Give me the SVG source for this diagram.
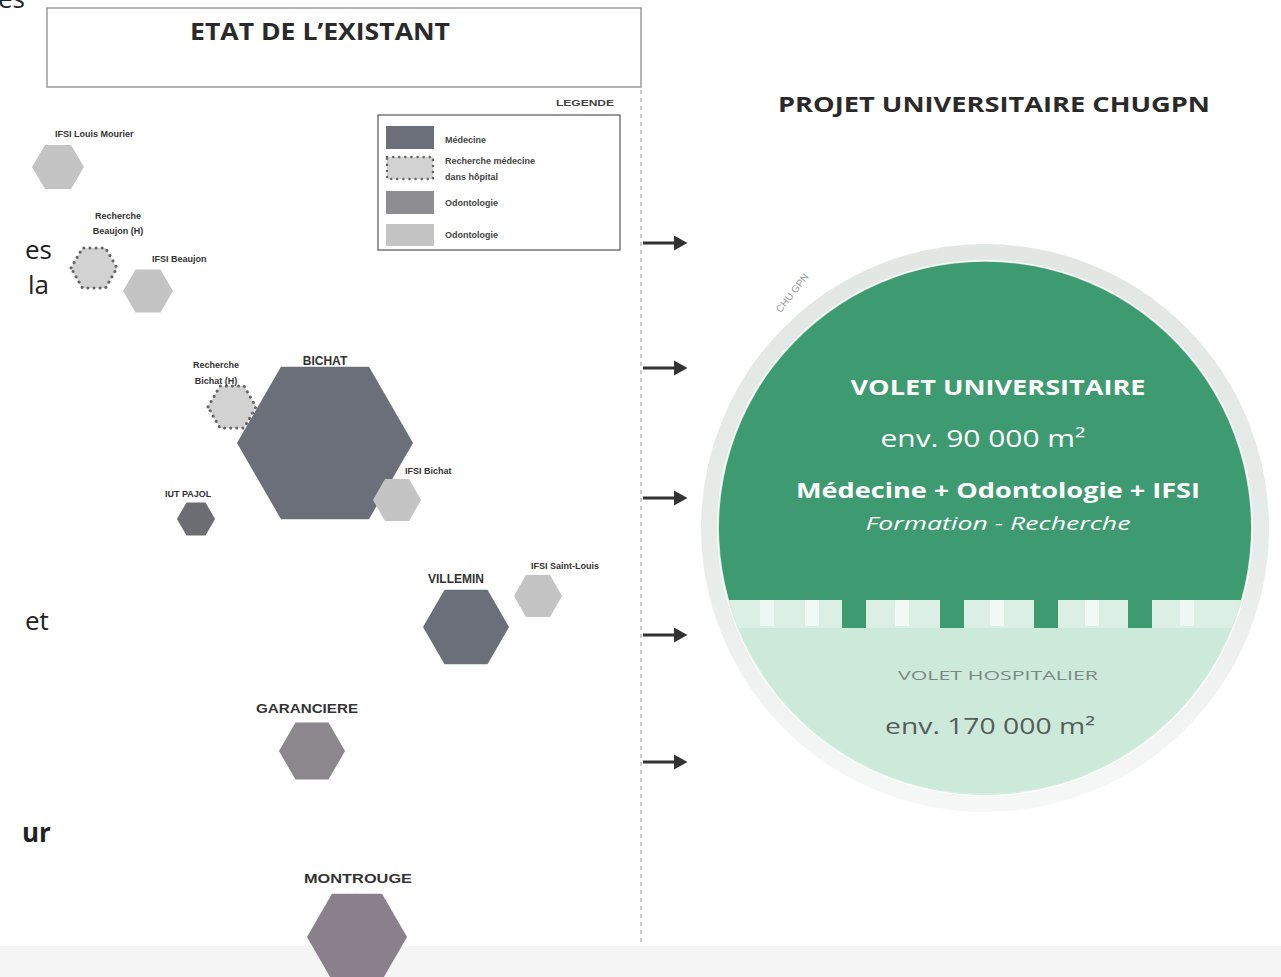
<svg xmlns="http://www.w3.org/2000/svg" width="1281" height="977" viewBox="0 0 1281 977">
<defs>
<style>
.side{font-family:"Open Sans","Noto Sans",sans-serif;font-size:26px;fill:#222}
.lbl{font-family:"Liberation Sans","DejaVu Sans",sans-serif;font-weight:bold;font-size:9px;fill:#333}
.big{font-family:"Liberation Sans","DejaVu Sans",sans-serif;font-weight:bold;font-size:12px;fill:#333}
.leg{font-family:"Liberation Sans","DejaVu Sans",sans-serif;font-weight:bold;font-size:9px;fill:#444}
.ttl{font-family:"Open Sans","Noto Sans",sans-serif;font-weight:bold;fill:#2a2a2a}
.wt{font-family:"Open Sans","Noto Sans",sans-serif;fill:#fff}
.med{fill:#6b6f7a}
.odo{fill:#8c868d}
.ifsi{fill:#c4c4c4}
.rech{fill:#d2d2d2;stroke:#666;stroke-width:3;stroke-dasharray:0.1 6;stroke-linecap:round}
.arrow{stroke:#333;stroke-width:3;fill:none;marker-end:url(#ah)}
</style>
<marker id="ah" markerWidth="6" markerHeight="6" refX="3" refY="3" orient="auto" markerUnits="strokeWidth">
<path d="M0,0.5 L4.5,3 L0,5.5 Z" fill="#333"/>
</marker>
<linearGradient id="ringg" x1="0" y1="0" x2="0" y2="1">
<stop offset="0" stop-color="#e2e7e4"/>
<stop offset="0.55" stop-color="#e8ece9"/>
<stop offset="1" stop-color="#f6f8f7"/>
</linearGradient>
<clipPath id="circ"><circle cx="985" cy="528" r="266"/></clipPath>
</defs>
<rect width="1281" height="977" fill="#fff"/>
<rect x="0" y="946" width="1281" height="31" fill="#f5f5f5"/>

<!-- cropped slide text on the left -->
<g id="side-text">
<text class="side" x="-2" y="8">es</text>
<text class="side" x="25" y="259">es</text>
<text class="side" x="28" y="294">la</text>
<text class="side" x="25" y="630">et</text>
<text class="side" x="22" y="842" font-weight="bold">ur</text>
</g>

<!-- title box -->
<g id="title-existant">
<rect x="47" y="8" width="594" height="79" fill="none" stroke="#9a9a9a" stroke-width="1.5"/>
<text class="ttl" x="190" y="40" font-size="23" textLength="260" lengthAdjust="spacingAndGlyphs">ETAT DE L’EXISTANT</text>
</g>

<line x1="641" y1="90" x2="641" y2="946" stroke="#9a9a9a" stroke-width="1" stroke-dasharray="4 4"/>

<!-- legend -->
<g id="legende">
<text class="leg" x="556" y="106" font-size="7.5" textLength="58" lengthAdjust="spacingAndGlyphs">LEGENDE</text>
<rect x="378" y="115" width="242" height="135" fill="#fff" stroke="#555" stroke-width="1.2"/>
<rect x="386" y="126" width="48" height="23" class="med"/>
<text class="leg" x="445" y="143">Médecine</text>
<rect x="387" y="157" width="46" height="22" fill="#d2d2d2" stroke="#666" stroke-width="2.5" stroke-dasharray="0.1 6" stroke-linecap="round"/>
<text class="leg" x="445" y="164">Recherche médecine</text>
<text class="leg" x="445" y="180">dans hôpital</text>
<rect x="386" y="191" width="48" height="23" fill="#8e8d90"/>
<text class="leg" x="445" y="206">Odontologie</text>
<rect x="386" y="224" width="48" height="22" fill="#c4c4c4"/>
<text class="leg" x="445" y="238">Odontologie</text>
</g>

<!-- hexagon nodes -->
<g id="ifsi-louis-mourier">
<polygon class="ifsi" points="32,167 45,145 71,145 84,167 71,189 45,189"/>
<text class="lbl" x="55" y="137">IFSI Louis Mourier</text>
</g>
<g id="recherche-beaujon">
<polygon class="rech" points="71,268 82.5,248 105.5,248 117,268 105.5,288 82.5,288"/>
<text class="lbl" x="118" y="219" text-anchor="middle">Recherche</text>
<text class="lbl" x="118" y="234" text-anchor="middle">Beaujon (H)</text>
</g>
<g id="ifsi-beaujon">
<polygon class="ifsi" points="123,291 135.5,269.5 160.5,269.5 173,291 160.5,312.5 135.5,312.5"/>
<text class="lbl" x="152" y="262">IFSI Beaujon</text>
</g>
<g id="recherche-bichat">
<polygon class="rech" points="208,407 220,386 244,386 256,407 244,428 220,428"/>
<text class="lbl" x="216" y="368" text-anchor="middle">Recherche</text>
<text class="lbl" x="216" y="384" text-anchor="middle">Bichat (H)</text>
</g>
<g id="bichat">
<polygon class="med" points="237,443 281,366.8 369,366.8 413,443 369,519.2 281,519.2"/>
<text class="big" x="325" y="365" text-anchor="middle" font-size="13">BICHAT</text>
</g>
<g id="ifsi-bichat">
<polygon class="ifsi" points="373,500 385,479 409,479 421,500 409,521 385,521"/>
<text class="lbl" x="405" y="474">IFSI Bichat</text>
</g>
<g id="iut-pajol">
<polygon fill="#6c6d73" points="177,519 186.5,502.5 205.5,502.5 215,519 205.5,535.5 186.5,535.5"/>
<text class="lbl" x="165" y="497">IUT PAJOL</text>
</g>
<g id="villemin">
<polygon class="med" points="423,627 444.5,589.8 487.5,589.8 509,627 487.5,664.2 444.5,664.2"/>
<text class="big" x="428" y="583">VILLEMIN</text>
</g>
<g id="ifsi-saint-louis">
<polygon class="ifsi" points="514,596 526,575 550,575 562,596 550,617 526,617"/>
<text class="lbl" x="531" y="569">IFSI Saint-Louis</text>
</g>
<g id="garanciere">
<polygon class="odo" points="279,751 295.5,722.4 328.5,722.4 345,751 328.5,779.6 295.5,779.6"/>
<text class="big" x="256" y="713" textLength="102" lengthAdjust="spacingAndGlyphs">GARANCIERE</text>
</g>
<g id="montrouge">
<polygon fill="#8a808b" points="307,937 332,893.7 382,893.7 407,937 382,980.3 332,980.3"/>
<text class="big" x="304" y="883" textLength="108" lengthAdjust="spacingAndGlyphs">MONTROUGE</text>
</g>

<!-- connectors -->
<g id="connectors">
<line class="arrow" x1="643" y1="243" x2="683" y2="243"/>
<line class="arrow" x1="643" y1="368" x2="683" y2="368"/>
<line class="arrow" x1="643" y1="498" x2="683" y2="498"/>
<line class="arrow" x1="643" y1="635" x2="683" y2="635"/>
<line class="arrow" x1="643" y1="762" x2="683" y2="762"/>
</g>

<!-- right side -->
<g id="title-projet">
<text class="ttl" x="778" y="112" font-size="21" textLength="432" lengthAdjust="spacingAndGlyphs">PROJET UNIVERSITAIRE CHUGPN</text>
</g>

<g id="chugpn">
<circle cx="985" cy="528" r="276" fill="none" stroke="url(#ringg)" stroke-width="16"/>
<circle cx="985" cy="528" r="267" fill="#d6efe2"/>
<text x="795" y="295" transform="rotate(-52 795 295)" text-anchor="middle" font-family="Liberation Sans, sans-serif" font-size="10" fill="#9a9a9a">CHU GPN</text>
</g>

<g id="volet-hospitalier">
<path d="M 729 600 A 266 266 0 0 0 1241 600 Z" fill="#cde9da"/>
<g clip-path="url(#circ)">
<rect x="720" y="600" width="530" height="28" fill="#dcefe4"/>
<rect x="760" y="600" width="14" height="26" fill="#eef8f2"/>
<rect x="805" y="600" width="14" height="26" fill="#f2faf5"/>
<rect x="895" y="600" width="14" height="26" fill="#f2faf5"/>
<rect x="990" y="600" width="14" height="26" fill="#f2faf5"/>
<rect x="1085" y="600" width="14" height="26" fill="#f2faf5"/>
<rect x="1180" y="600" width="14" height="26" fill="#eef8f2"/>
</g>
<text x="998" y="680" text-anchor="middle" font-family="Open Sans, sans-serif" font-size="13" fill="#7b8a82" textLength="200" lengthAdjust="spacingAndGlyphs">VOLET HOSPITALIER</text>
<text x="990" y="734" text-anchor="middle" font-family="Open Sans, sans-serif" font-size="22" fill="#555d59" textLength="210" lengthAdjust="spacingAndGlyphs">env. 170 000 m²</text>
</g>

<g id="volet-universitaire">
<path d="M 729 600 A 266 266 0 1 1 1241 600 Z" fill="#3e9a70"/>
<rect x="842" y="598" width="24" height="30" fill="#3e9a70"/>
<rect x="940" y="598" width="24" height="30" fill="#3e9a70"/>
<rect x="1034" y="598" width="24" height="30" fill="#3e9a70"/>
<rect x="1128" y="598" width="24" height="30" fill="#3e9a70"/>
<text class="wt" x="998" y="395" text-anchor="middle" font-size="21" font-weight="bold" textLength="295" lengthAdjust="spacingAndGlyphs">VOLET UNIVERSITAIRE</text>
<text class="wt" x="983" y="447" text-anchor="middle" font-size="23" textLength="205" lengthAdjust="spacingAndGlyphs">env. 90 000 m²</text>
<text class="wt" x="998" y="498" text-anchor="middle" font-size="22" font-weight="bold" textLength="404" lengthAdjust="spacingAndGlyphs">Médecine + Odontologie + IFSI</text>
<text class="wt" x="998" y="530" text-anchor="middle" font-size="19" font-style="italic" fill="#e4f2ea" textLength="265" lengthAdjust="spacingAndGlyphs">Formation - Recherche</text>
</g>
</svg>
